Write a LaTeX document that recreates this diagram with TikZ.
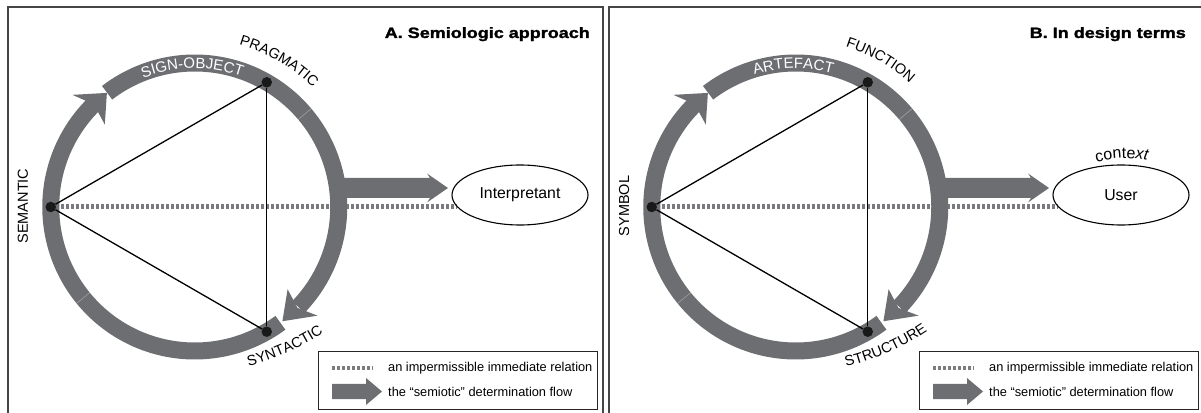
\documentclass[tikz,border=0pt]{standalone}
\usepackage{fontspec}
\setmainfont{Liberation Sans}
\setsansfont{Liberation Sans}
\newfontfamily\titlefont[FakeBold=1.5]{Liberation Sans Bold}
\usetikzlibrary{shapes.geometric,decorations.text,calc}
\definecolor{ringcol}{HTML}{6D6E71}
\definecolor{dotcol}{HTML}{7A7B7E}
\definecolor{framecol}{HTML}{454545}
\newcommand{\lblfont}{\fontsize{14.5pt}{14.5pt}\selectfont}
\newcommand{\bandfont}{\fontsize{15pt}{15pt}\selectfont\color{white}}
\newcommand{\ctxfont}{\fontsize{16pt}{16pt}\selectfont}
\pgfdeclarelayer{dotlayer}
\pgfdeclarelayer{ringlayer}
\pgfsetlayers{dotlayer,ringlayer,main}
\tikzset{
  ringband/.style={draw=ringcol, line width=17pt, line cap=butt, line join=round},
  dotnode/.style={circle, fill=black!90, inner sep=0pt, minimum size=10.5pt},
  triline/.style={draw=black, line width=1.3pt},
  dotline/.style={draw=dotcol, line width=5pt, dash pattern=on 3pt off 2pt},
  panelframe/.style={draw=framecol, line width=1.2pt},
  legbox/.style={draw=black!85, line width=1pt},
  lbl/.style={font=\lblfont, inner sep=0pt},
  ellnode/.style={ellipse, draw=black, line width=1.1pt, minimum width=136pt, minimum height=60pt, inner sep=0pt, font=\fontsize{15.8pt}{16pt}\selectfont},
  legtext/.style={anchor=west, inner sep=0pt, font=\fontsize{12.8pt}{13pt}\selectfont},
  seam/.style={draw=white, draw opacity=0.35, line width=0.6pt},
  titlenode/.style={anchor=base east, inner sep=0pt, font=\titlefont\fontsize{15pt}{15pt}\selectfont},
}
% #1 prefix, #2 title, #3 title x, #4 left label, #5 top label, #6 bottom label, #7 band label, #8 ellipse text
\newcommand{\drawpanel}[8]{%
  \draw[panelframe] (8,-10) rectangle (603,405);
  \node[titlenode] (#1title) at (#3,374) {\scalebox{1.2}[1]{#2}};
  \node[ellnode] (#1ell) at (520,217) {#8};
  \begin{scope}[shift={(194.75,205)}]
    \node[dotnode] (#1sem) at (180:144) {};
    \node[dotnode] (#1prag) at (60:144) {};
    \node[dotnode] (#1syn) at (-60:144) {};
  \end{scope}
  \begin{pgfonlayer}{dotlayer}
    \draw[dotline] (#1sem) -- (#1sem -| #1ell.191);
  \end{pgfonlayer}
  \begin{pgfonlayer}{ringlayer}
    \begin{scope}[shift={(194.75,205)}]
      \draw[ringband] plot[domain=-53.5:-226, samples=140] (\x:144);
      \draw[ringband] plot[domain=127.5:-44, samples=140] (\x:144);
      \fill[ringcol] (137.5:166) -- (127.6:144) -- (137.5:122) -- (134.5:144) -- cycle;
      \fill[ringcol] (-41.5:164) -- (-52.5:144) -- (-41.5:124) -- (-44.5:144) -- cycle;
      \draw[seam] (40.2:135.5) -- (40.2:152.5);
      \draw[seam] (-140.8:135.5) -- (-140.8:152.5);
      \path[decorate, decoration={text along path, text align=center, text={|\bandfont|#7}}]
        plot[domain=136:46, samples=60] (\x:138.6);
    \end{scope}
    \coordinate (#1fs) at (336,224);
    \coordinate (#1fe) at (448,224);
    \fill[ringcol] ($(#1fs)+(0,10)$) -- ($(#1fe)+(-18,10)$) -- ($(#1fe)+(-21,14.5)$) -- (#1fe)
      -- ($(#1fe)+(-21,-14.5)$) -- ($(#1fe)+(-18,-10)$) -- ($(#1fs)+(0,-10)$) -- cycle;
  \end{pgfonlayer}
  \draw[triline] (#1sem) -- (#1prag);
  \draw[triline] (#1sem) -- (#1syn);
  \draw[triline] (#1prag) -- (#1syn);
  \node[lbl, rotate=90] (#1lblL) at (23,206) {#4};
  \begin{scope}[shift={(194.75,205)}]
    \path[decorate, decoration={text along path, text align=center, text={|\lblfont|#5}}]
      plot[domain=90:30, samples=40] (\x:168);
  \end{scope}
  \begin{scope}[shift={(185.75,287.9)}]
    \path[decorate, decoration={text along path, text align=center, text={|\lblfont|#6}}]
      plot[domain=-82:-50, samples=40] (\x:250);
  \end{scope}
  % legend
  \draw[legbox] (318,3) rectangle (597,60);
  \coordinate (#1ld1) at (332,44);
  \coordinate (#1ld2) at (373,44);
  \draw[dotline, line width=4pt] (#1ld1) -- (#1ld2);
  \node[legtext] (#1lt1) at (388,44) {an impermissible immediate relation};
  \coordinate (#1la1) at (332,20.5);
  \coordinate (#1la2) at (382,20.5);
  \fill[ringcol] ($(#1la1)+(0,7.5)$) -- ($(#1la2)+(-16,7.5)$) -- ($(#1la2)+(-16,13.5)$) -- (#1la2)
    -- ($(#1la2)+(-16,-13.5)$) -- ($(#1la2)+(-16,-7.5)$) -- ($(#1la1)+(0,-7.5)$) -- cycle;
  \node[legtext] (#1lt2) at (388,20.5) {the “semiotic” determination flow};
}
\begin{document}
\begin{tikzpicture}[x=1pt,y=1pt]
  \clip (0,0) rectangle (1201,412);
  \drawpanel{a}{A. Semiologic approach}{590}{SEMANTIC}{PRAGMATIC}{SYNTACTIC}{SIGN-OBJECT}{Interpretant}
  \begin{scope}[xshift=601pt]
    \drawpanel{b}{B. In design terms}{585}{SYMBOL}{FUNCTION}{STRUCTURE}{ARTEFACT}{User}
    \path[decorate, decoration={text along path, text align=center, text={|\ctxfont|conte|\ctxfont\itshape|xt}}]
      (488,248) to[bend left=14] (554,250);
  \end{scope}
\end{tikzpicture}
\end{document}
